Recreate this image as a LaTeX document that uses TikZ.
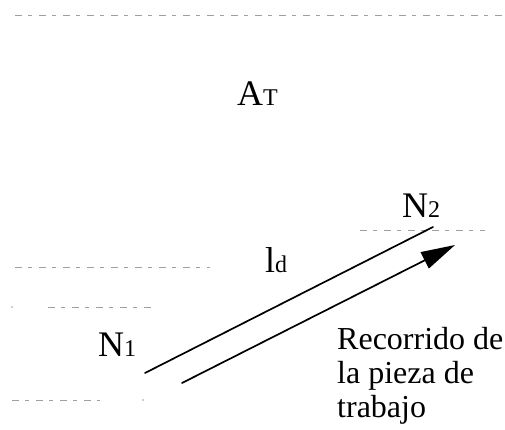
\documentclass[tikz,border=0pt]{standalone}
\usepackage{fontspec}
\setmainfont{Liberation Serif}
\usetikzlibrary{arrows.meta}
\newcommand{\lsub}[1]{{\fontsize{24}{24}\selectfont #1}}
\tikzset{
  lvl/.style ={draw=gray!75,line width=0.8pt,dash pattern=on 7pt off 6pt on 4pt off 7pt},
  lbl/.style ={font=\fontsize{36}{36}\selectfont,inner sep=0pt,anchor=base west},
  txt/.style ={font=\fontsize{32}{34}\selectfont,inner sep=0pt,align=left,anchor=north west},
  trk/.style ={line width=1.7pt,line cap=round},
  ar/.style  ={trk,-{Triangle[length=34pt,width=18pt]}},
}
\begin{document}
\begin{tikzpicture}[x=1pt,y=-1pt]
\useasboundingbox (0,0) rectangle (505,430);
% reference levels (faint, broken)
\coordinate (t1) at (15,15);   \coordinate (t2) at (505,15);
\coordinate (m1) at (15,267);  \coordinate (m2) at (210,267);
\coordinate (s1) at (48,307);  \coordinate (s2) at (152,307);
\coordinate (b1) at (12,400);  \coordinate (b2) at (100,400);
\coordinate (n1) at (360,230); \coordinate (n2) at (485,230);
\draw[lvl] (t1) -- (t2);
\draw[lvl] (m1) -- (m2);
\draw[lvl] (s1) -- (s2);
\draw[lvl] (b1) -- (b2);
\draw[lvl] (n1) -- (n2);
\fill[gray!75] (12,307) circle (0.8pt) (143,400) circle (0.8pt);
% labels
\node[lbl] (AT) at (237,106) {A\lsub{T}};
\node[lbl] (N2) at (402,217) {N\lsub{2}};
\node[lbl] (Ld) at (265,272) {l\lsub{d}};
\node[lbl] (N1) at (98,356)  {N\lsub{1}};
\node[txt] (Rc) at (337,327) {Recorrido de\\la pieza de\\trabajo};
% path and direction of travel
\coordinate (p1) at (145,373); \coordinate (p2) at (433,227);
\coordinate (q1) at (182,383); \coordinate (q2) at (455,245);
\draw[trk] (p1) -- (p2);
\draw[ar]  (q1) -- (q2);
\end{tikzpicture}
\end{document}
